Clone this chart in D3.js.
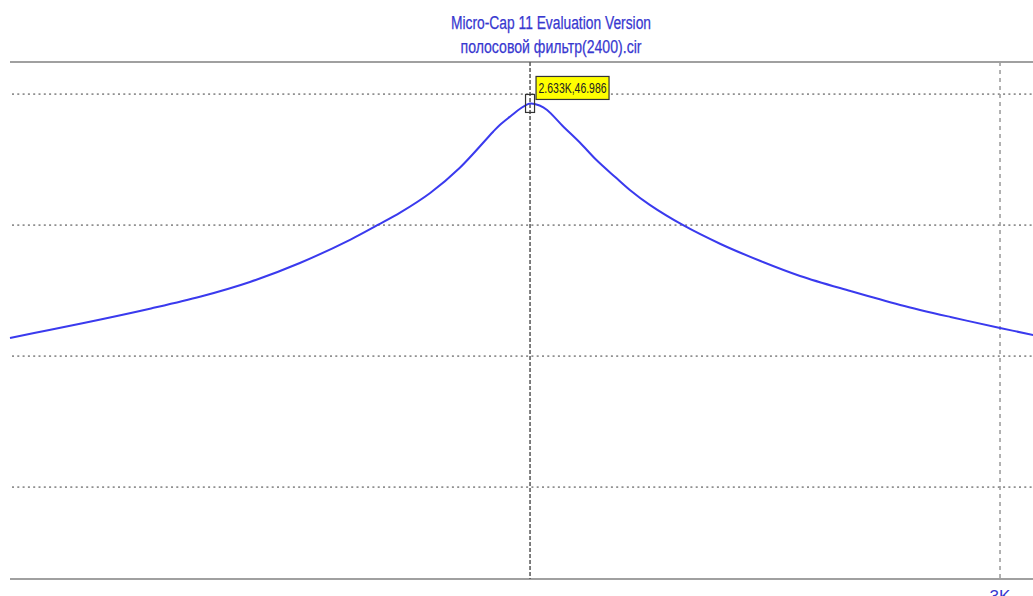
<!DOCTYPE html>
<html>
<head>
<meta charset="utf-8">
<script src="https://cdn.jsdelivr.net/npm/d3@7"></script>
<style>
  body { margin: 0; background: #fff; }
  svg { display: block; }
</style>
</head>
<body>
<div id="chart"></div>
<script>
// данные АЧХ (частота, Гц / уровень, дБ)
const freq = [2279, 2304, 2337, 2370, 2403, 2436, 2470, 2505, 2524, 2540, 2561, 2582, 2606, 2611, 2619, 2626,
  2633, 2640, 2645.5, 2657, 2670, 2682, 2696, 2707, 2722, 2747, 2776, 2807, 2838, 2878, 2918, 2959, 3000, 3028];
const gain = [29.08, 29.70, 30.50, 31.34, 32.25, 33.36, 34.81, 36.60, 37.71, 38.67, 40.15, 42.06, 44.81, 45.35, 46.03, 46.60,
  46.986, 46.83, 46.49, 45.27, 43.97, 42.67, 41.37, 40.38, 39.24, 37.71, 36.26, 34.96, 33.82, 32.67, 31.61, 30.69, 29.85, 29.31];
const yGrid = [47.7, 37.7, 27.7, 17.7];
const xGrid = [3000];
const xTickLabels = ["3K"];
const cursor = { f: 2633, v: 46.986, label: "2.633K,46.986" };
const titleLines = ["Micro-Cap 11 Evaluation Version", "полосовой фильтр(2400).cir"];

const WIDTH = 1033;
const HEIGHT = 596;
const plotLeft = 10, plotRight = 1033, plotTop = 62, plotBottom = 579;

const svg = d3.select("#chart").append("svg")
  .attr("width", WIDTH)
  .attr("height", HEIGHT);

const x = d3.scaleLog().domain([2279, 3027.6]).range([plotLeft, plotRight]);
const y = d3.scaleLinear().domain([10.69, 50.15]).range([plotBottom, plotTop]);

// заголовок
svg.selectAll("text.title")
  .data(titleLines)
  .join("text")
  .attr("class", "title")
  .attr("x", 551)
  .attr("y", (d, i) => 29 + i * 24)
  .attr("text-anchor", "middle")
  .attr("font-family", "Liberation Sans, Arial, sans-serif")
  .attr("font-size", 18)
  .attr("fill", "#3838d0")
  .attr("stroke", "#3838d0")
  .attr("stroke-width", 0.25)
  .attr("textLength", (d, i) => i === 0 ? 200 : 181)
  .attr("lengthAdjust", "spacingAndGlyphs")
  .text(d => d);

// горизонтальная сетка
svg.selectAll("line.hgrid")
  .data(yGrid)
  .join("line")
  .attr("x1", plotLeft + 2).attr("x2", plotRight)
  .attr("y1", d => y(d)).attr("y2", d => y(d))
  .attr("stroke", "#909090")
  .attr("stroke-width", 1.6)
  .attr("stroke-dasharray", "2,3.3");

// вертикальная сетка
svg.selectAll("line.vgrid")
  .data(xGrid)
  .join("line")
  .attr("x1", d => x(d)).attr("x2", d => x(d))
  .attr("y1", plotTop).attr("y2", plotBottom)
  .attr("stroke", "#999")
  .attr("stroke-width", 1.5)
  .attr("stroke-dasharray", "4,4");

// рамка
[plotTop, plotBottom].forEach(py => {
  svg.append("line")
    .attr("x1", plotLeft).attr("x2", plotRight)
    .attr("y1", py).attr("y2", py)
    .attr("stroke", "#a0a0a0")
    .attr("stroke-width", 2);
});

// подпись оси X
svg.selectAll("text.xlab")
  .data(xGrid)
  .join("text")
  .attr("x", d => x(d))
  .attr("y", 602)
  .attr("text-anchor", "middle")
  .attr("font-family", "Liberation Sans, Arial, sans-serif")
  .attr("font-size", 17)
  .attr("fill", "#3838d0")
  .text((d, i) => xTickLabels[i]);

// курсор
svg.append("line")
  .attr("x1", x(cursor.f)).attr("x2", x(cursor.f))
  .attr("y1", plotTop).attr("y2", plotBottom)
  .attr("stroke", "#555")
  .attr("stroke-width", 1.5)
  .attr("stroke-dasharray", "4,2");

// кривая
const line = d3.line()
  .x((d, i) => x(freq[i]))
  .y(d => y(d))
  .curve(d3.curveCatmullRom.alpha(0.5));

svg.append("path")
  .datum(gain)
  .attr("d", line)
  .attr("fill", "none")
  .attr("stroke", "#3a3aee")
  .attr("stroke-width", 2);

// маркер курсора
const cx = x(cursor.f), cy = y(cursor.v);
svg.append("rect")
  .attr("x", cx - 4.5).attr("y", cy - 9)
  .attr("width", 9).attr("height", 18)
  .attr("fill", "none")
  .attr("stroke", "#333")
  .attr("stroke-width", 1.2);

const tag = svg.append("g").attr("transform", `translate(${cx + 6},${cy - 27})`);
tag.append("rect")
  .attr("width", 73).attr("height", 23)
  .attr("fill", "#ffff00")
  .attr("stroke", "#333")
  .attr("stroke-width", 1.2);
tag.append("text")
  .attr("x", 2.5).attr("y", 16.5)
  .attr("font-family", "Liberation Sans, Arial, sans-serif")
  .attr("font-size", 15)
  .attr("fill", "#222")
  .attr("textLength", 68)
  .attr("lengthAdjust", "spacingAndGlyphs")
  .text(cursor.label);
</script>
</body>
</html>
